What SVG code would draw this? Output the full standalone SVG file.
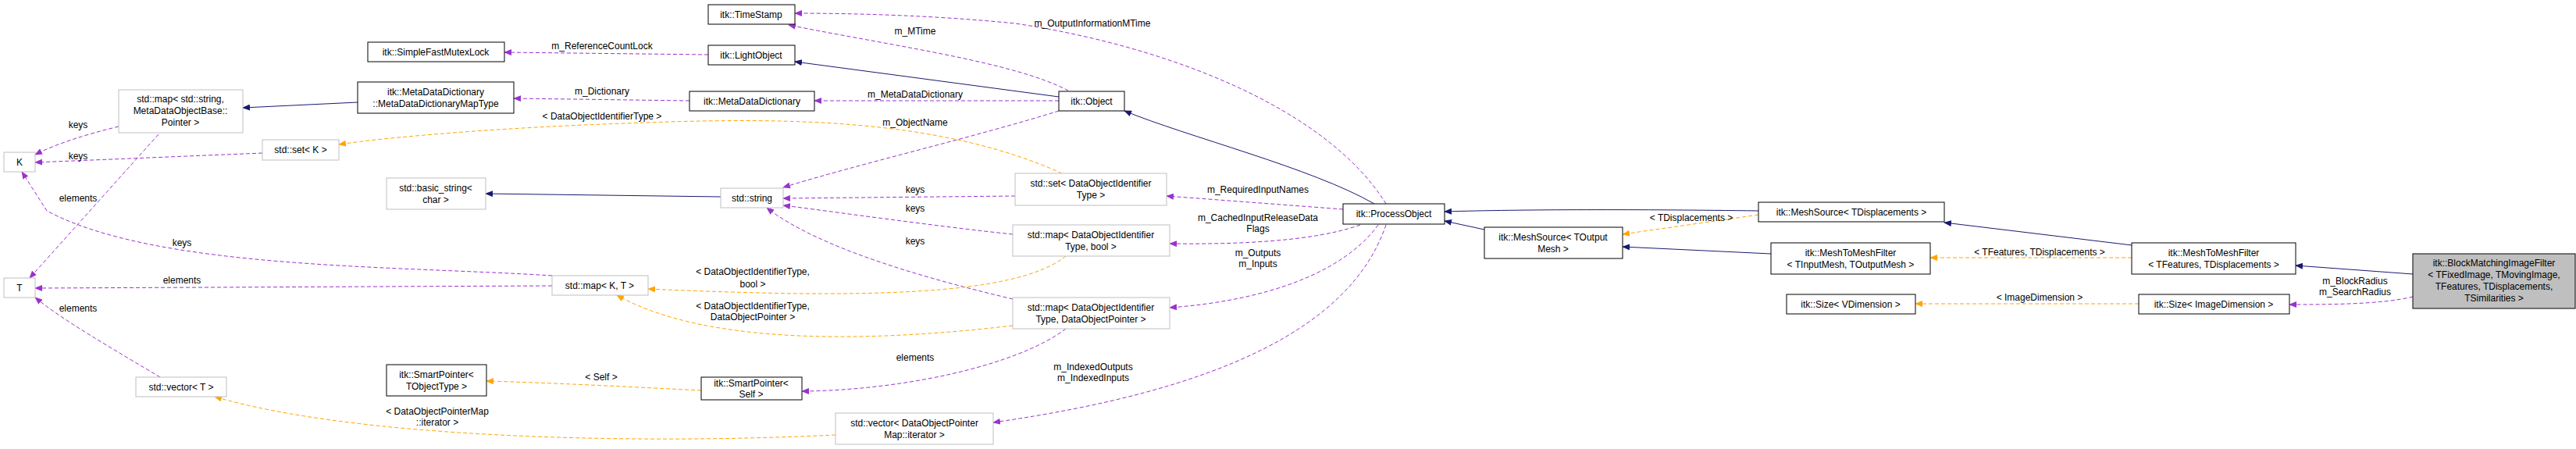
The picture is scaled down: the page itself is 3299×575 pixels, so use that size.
<svg xmlns="http://www.w3.org/2000/svg" width="3299" height="575" viewBox="0 0 3299 575">
<style>
text{font-family:"Liberation Sans",Arial,sans-serif;font-size:12px;fill:#000;text-anchor:middle}
.b{fill:#fff;stroke:#000;stroke-width:1}
.g{fill:#fff;stroke:#bfbfbf;stroke-width:1}
.s{fill:#bfbfbf;stroke:#000;stroke-width:1}
.n{fill:none;stroke:#191970;stroke-width:1}
.p{fill:none;stroke:#9a32cd;stroke-width:1;stroke-dasharray:5,3}
.o{fill:none;stroke:#ffa500;stroke-width:1;stroke-dasharray:5,3}
</style>
<defs>
<marker id="an" markerWidth="10" markerHeight="8" refX="9" refY="4" orient="auto" markerUnits="userSpaceOnUse"><path d="M0,0L10,4L0,8z" fill="#191970"/></marker>
<marker id="ap" markerWidth="10" markerHeight="8" refX="9" refY="4" orient="auto" markerUnits="userSpaceOnUse"><path d="M0,0L10,4L0,8z" fill="#9a32cd"/></marker>
<marker id="ao" markerWidth="10" markerHeight="8" refX="9" refY="4" orient="auto" markerUnits="userSpaceOnUse"><path d="M0,0L10,4L0,8z" fill="#ffa500"/></marker>
</defs>
<g id="edges">
<path class="n" marker-end="url(#an)" d="M458,131L311,138"/>
<path class="n" marker-end="url(#an)" d="M923,252L622,248"/>
<path class="n" marker-end="url(#an)" d="M1356,124L1018,79"/>
<path class="n" marker-end="url(#an)" d="M1760,261C1680,215 1520,175 1440,142"/>
<path class="n" marker-end="url(#an)" d="M1901,294L1850,283"/>
<path class="n" marker-end="url(#an)" d="M2252,270C2100,268 1950,268 1850,271"/>
<path class="n" marker-end="url(#an)" d="M2268,325L2078,316"/>
<path class="n" marker-end="url(#an)" d="M2730,314L2490,285"/>
<path class="n" marker-end="url(#an)" d="M3090,351L2940,340"/>
<path class="p" marker-end="url(#ap)" d="M907,70L646,67"/>
<path class="p" marker-end="url(#ap)" d="M883,129L658,126"/>
<path class="p" marker-end="url(#ap)" d="M1356,129L1043,129"/>
<path class="p" marker-end="url(#ap)" d="M1368,116C1300,80 1150,60 1010,32"/>
<path class="p" marker-end="url(#ap)" d="M1775,261C1700,140 1500,60 1300,30C1200,20 1100,17 1018,17"/>
<path class="p" marker-end="url(#ap)" d="M1356,142C1250,175 1100,210 1003,240"/>
<path class="p" marker-end="url(#ap)" d="M1300,251L1003,254"/>
<path class="p" marker-end="url(#ap)" d="M1297,300C1200,290 1060,270 1003,263"/>
<path class="p" marker-end="url(#ap)" d="M1297,383C1200,360 1050,320 982,266"/>
<path class="p" marker-end="url(#ap)" d="M1720,268L1494,251"/>
<path class="p" marker-end="url(#ap)" d="M1742,288C1680,310 1580,313 1498,312"/>
<path class="p" marker-end="url(#ap)" d="M1765,288C1720,350 1620,385 1498,394"/>
<path class="p" marker-end="url(#ap)" d="M1775,288C1730,420 1560,500 1272,541"/>
<path class="p" marker-end="url(#ap)" d="M1365,421C1300,470 1150,500 1027,501"/>
<path class="p" marker-end="url(#ap)" d="M203,172L38,356"/>
<path class="p" marker-end="url(#ap)" d="M152,162C110,172 70,185 45,198"/>
<path class="p" marker-end="url(#ap)" d="M336,196L45,208"/>
<path class="p" marker-end="url(#ap)" d="M707,353C500,340 200,345 60,270L28,220"/>
<path class="p" marker-end="url(#ap)" d="M707,366L45,369"/>
<path class="p" marker-end="url(#ap)" d="M205,483C150,450 80,410 45,381"/>
<path class="p" marker-end="url(#ap)" d="M3090,380C3050,390 2980,390 2932,390"/>
<path class="o" marker-end="url(#ao)" d="M1360,222C1200,150 1000,150 800,158C650,163 500,175 434,185"/>
<path class="o" marker-end="url(#ao)" d="M1365,328C1300,380 1100,382 830,370"/>
<path class="o" marker-end="url(#ao)" d="M1297,417C1100,440 900,440 790,378"/>
<path class="o" marker-end="url(#ao)" d="M898,500C800,495 700,490 623,488"/>
<path class="o" marker-end="url(#ao)" d="M1070,557C800,570 450,560 275,508"/>
<path class="o" marker-end="url(#ao)" d="M2252,275L2078,300"/>
<path class="o" marker-end="url(#ao)" d="M2730,330L2472,330"/>
<path class="o" marker-end="url(#ao)" d="M2739,389L2453,389"/>
<text x="771" y="63">m_ReferenceCountLock</text>
<text x="771" y="121">m_Dictionary</text>
<text x="771" y="153">&lt; DataObjectIdentifierType &gt;</text>
<text x="1172" y="44">m_MTime</text>
<text x="1399" y="34">m_OutputInformationMTime</text>
<text x="1172" y="125">m_MetaDataDictionary</text>
<text x="1172" y="161">m_ObjectName</text>
<text x="1172" y="247">keys</text>
<text x="1172" y="271">keys</text>
<text x="1172" y="313">keys</text>
<text x="964" y="352">&lt; DataObjectIdentifierType,</text>
<text x="964" y="368">bool &gt;</text>
<text x="964" y="396">&lt; DataObjectIdentifierType,</text>
<text x="964" y="410">DataObjectPointer &gt;</text>
<text x="1172" y="462">elements</text>
<text x="770" y="487">&lt; Self &gt;</text>
<text x="560" y="531">&lt; DataObjectPointerMap</text>
<text x="560" y="545">::iterator &gt;</text>
<text x="1400" y="474">m_IndexedOutputs</text>
<text x="1400" y="488">m_IndexedInputs</text>
<text x="1611" y="247">m_RequiredInputNames</text>
<text x="1611" y="283">m_CachedInputReleaseData</text>
<text x="1611" y="297">Flags</text>
<text x="1611" y="328">m_Outputs</text>
<text x="1611" y="342">m_Inputs</text>
<text x="100" y="164">keys</text>
<text x="100" y="204">keys</text>
<text x="100" y="258">elements</text>
<text x="233" y="315">keys</text>
<text x="233" y="363">elements</text>
<text x="100" y="399">elements</text>
<text x="2166" y="283">&lt; TDisplacements &gt;</text>
<text x="2612" y="327">&lt; TFeatures, TDisplacements &gt;</text>
<text x="2612" y="385">&lt; ImageDimension &gt;</text>
<text x="3016" y="364">m_BlockRadius</text>
<text x="3016" y="378">m_SearchRadius</text>
</g>
<g id="n1"><rect class="b" x="907" y="6" width="111" height="25"/><text x="962" y="23">itk::TimeStamp</text></g>
<g id="n2"><rect class="b" x="471" y="54" width="175" height="25"/><text x="558" y="71">itk::SimpleFastMutexLock</text></g>
<g id="n3"><rect class="b" x="907" y="58" width="111" height="25"/><text x="962" y="75">itk::LightObject</text></g>
<g id="n4"><rect class="b" x="458" y="105" width="200" height="40"/><text x="558" y="122">itk::MetaDataDictionary</text><text x="558" y="137">::MetaDataDictionaryMapType</text></g>
<g id="n5"><rect class="g" x="152" y="115" width="159" height="55"/><text x="231" y="131">std::map&lt; std::string,</text><text x="231" y="146">MetaDataObjectBase::</text><text x="231" y="161">Pointer &gt;</text></g>
<g id="n6"><rect class="b" x="883" y="117" width="160" height="25"/><text x="963" y="134">itk::MetaDataDictionary</text></g>
<g id="n7"><rect class="b" x="1356" y="117" width="84" height="25"/><text x="1398" y="134">itk::Object</text></g>
<g id="n8"><rect class="g" x="336" y="179" width="98" height="26"/><text x="385" y="196">std::set&lt; K &gt;</text></g>
<g id="n9"><rect class="g" x="5" y="195" width="40" height="25"/><text x="25" y="212">K</text></g>
<g id="n10"><rect class="g" x="495" y="228" width="127" height="40"/><text x="558" y="245">std::basic_string&lt;</text><text x="558" y="260">char &gt;</text></g>
<g id="n11"><rect class="g" x="923" y="241" width="80" height="25"/><text x="963" y="258">std::string</text></g>
<g id="n12"><rect class="g" x="1300" y="222" width="194" height="41"/><text x="1397" y="239">std::set&lt; DataObjectIdentifier</text><text x="1397" y="254">Type &gt;</text></g>
<g id="n13"><rect class="g" x="1297" y="288" width="201" height="40"/><text x="1397" y="305">std::map&lt; DataObjectIdentifier</text><text x="1397" y="320">Type, bool &gt;</text></g>
<g id="n14"><rect class="g" x="1297" y="381" width="201" height="40"/><text x="1397" y="398">std::map&lt; DataObjectIdentifier</text><text x="1397" y="413">Type, DataObjectPointer &gt;</text></g>
<g id="n15"><rect class="b" x="1720" y="261" width="130" height="26"/><text x="1785" y="278">itk::ProcessObject</text></g>
<g id="n16"><rect class="g" x="707" y="353" width="123" height="25"/><text x="768" y="370">std::map&lt; K, T &gt;</text></g>
<g id="n17"><rect class="g" x="5" y="356" width="40" height="25"/><text x="25" y="373">T</text></g>
<g id="n18"><rect class="b" x="495" y="467" width="128" height="40"/><text x="559" y="484">itk::SmartPointer&lt;</text><text x="559" y="499">TObjectType &gt;</text></g>
<g id="n19"><rect class="b" x="898" y="483" width="129" height="29"/><text x="962" y="495">itk::SmartPointer&lt;</text><text x="962" y="509">Self &gt;</text></g>
<g id="n20"><rect class="g" x="174" y="483" width="116" height="25"/><text x="232" y="500">std::vector&lt; T &gt;</text></g>
<g id="n21"><rect class="g" x="1070" y="529" width="202" height="40"/><text x="1171" y="546">std::vector&lt; DataObjectPointer</text><text x="1171" y="561">Map::iterator &gt;</text></g>
<g id="n22"><rect class="b" x="1901" y="291" width="177" height="40"/><text x="1989" y="308">itk::MeshSource&lt; TOutput</text><text x="1989" y="323">Mesh &gt;</text></g>
<g id="n23"><rect class="b" x="2252" y="259" width="238" height="25"/><text x="2371" y="276">itk::MeshSource&lt; TDisplacements &gt;</text></g>
<g id="n24"><rect class="b" x="2268" y="311" width="204" height="40"/><text x="2370" y="328">itk::MeshToMeshFilter</text><text x="2370" y="343">&lt; TInputMesh, TOutputMesh &gt;</text></g>
<g id="n25"><rect class="b" x="2730" y="311" width="210" height="40"/><text x="2835" y="328">itk::MeshToMeshFilter</text><text x="2835" y="343">&lt; TFeatures, TDisplacements &gt;</text></g>
<g id="n26"><rect class="b" x="2288" y="377" width="165" height="25"/><text x="2370" y="394">itk::Size&lt; VDimension &gt;</text></g>
<g id="n27"><rect class="b" x="2739" y="377" width="193" height="25"/><text x="2835" y="394">itk::Size&lt; ImageDimension &gt;</text></g>
<g id="n28"><rect class="s" x="3090" y="325" width="208" height="70"/><text x="3194" y="341">itk::BlockMatchingImageFilter</text><text x="3194" y="356">&lt; TFixedImage, TMovingImage,</text><text x="3194" y="371">TFeatures, TDisplacements,</text><text x="3194" y="386">TSimilarities &gt;</text></g>
</svg>
